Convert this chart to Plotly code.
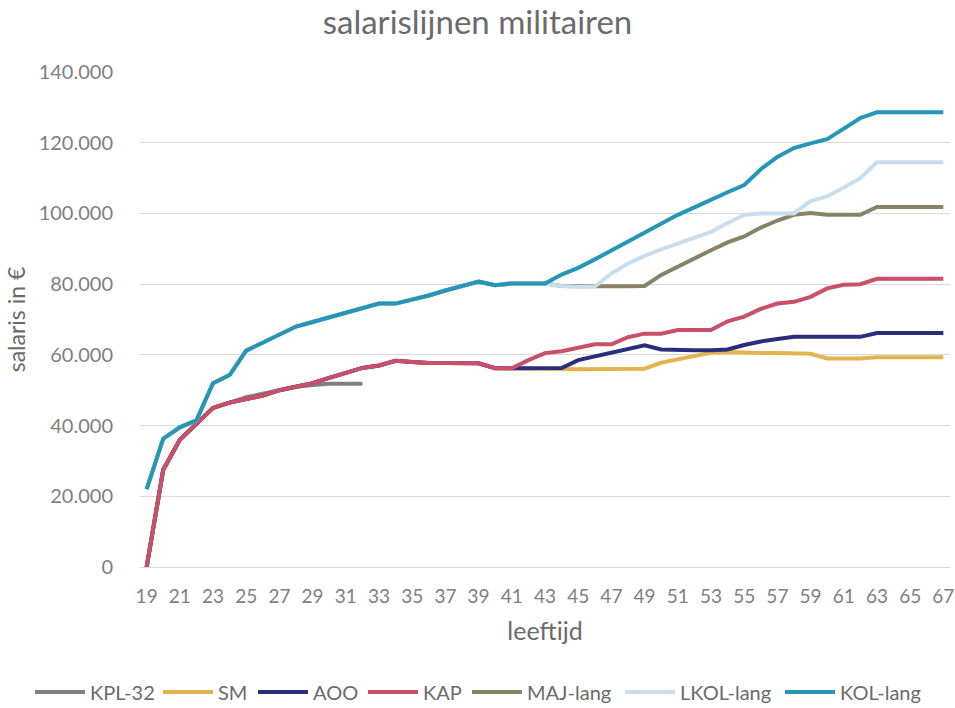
import plotly.graph_objects as go

# ---- data -------------------------------------------------------------
ages = list(range(19, 68))

# shared lower path (ages 19-41)
lower_19_41 = [0, 27500, 36000, 40500, 45000, 46500, 47500, 48500, 50000, 51000,
               52000, 53500, 55000, 56300, 57000, 58300, 58000, 57700, 57700, 57700,
               57600, 56200, 56200]
# shared upper path (ages 19-43)
upper_19_43 = [22000, 36300, 39500, 41500, 52000, 54300, 61200, 63500, 66000, 68000,
               69300, 70600, 71800, 73200, 74500, 74500, 75600, 76800, 78200, 79500,
               80700, 79700, 80200, 80200, 80200]

kpl32 = [0, 27500, 36000, 40500, 45000, 46500, 48000, 49000, 50000, 51000,
         51500, 51800, 51800, 51800]  # ages 19-32

sm_42_67 = [56200, 56200, 56000, 55900, 55900, 55900, 55900, 56100, 57800, 58800,
            59700, 60600, 60800, 60600, 60500, 60500, 60500, 60300, 59000, 59000,
            59000, 59300, 59300, 59300, 59300, 59300]
aoo_42_67 = [56200, 56200, 56300, 58500, 59500, 60500, 61700, 62700, 61500, 61300,
             61300, 61300, 61500, 62800, 63800, 64500, 65100, 65100, 65100, 65100,
             65100, 66200, 66200, 66200, 66200, 66200]
kap_42_67 = [58500, 60500, 61000, 62000, 63000, 63000, 65000, 66000, 66000, 67000,
             67000, 67000, 69500, 70800, 73000, 74500, 75000, 76400, 78800, 79800,
             80000, 81500, 81500, 81500, 81500, 81500]
maj_44_67 = [79500, 79400, 79400, 79400, 79400, 79500, 82600, 85000, 87400, 89600,
             91800, 93500, 96000, 98000, 99600, 100100, 99600, 99600, 99600, 101800,
             101800, 101800, 101800, 101800]
lkol_44_67 = [79500, 79200, 79300, 83000, 85800, 88000, 89800, 91500, 93000, 94800,
              97300, 99600, 100000, 100000, 100000, 103500, 104800, 107300, 110000, 114500,
              114500, 114500, 114500, 114500]
kol_44_67 = [82700, 84600, 87000, 89500, 92000, 94500, 97300, 99600, 101700, 104000,
             106000, 108000, 112500, 116000, 118500, 119800, 121000, 124000, 127000, 128600,
             128600, 128600, 128600, 128600]

series_names = ["KPL-32", "SM", "AOO", "KAP", "MAJ-lang", "LKOL-lang", "KOL-lang"]
series_values = [
    kpl32,
    lower_19_41 + sm_42_67,
    lower_19_41 + aoo_42_67,
    lower_19_41 + kap_42_67,
    upper_19_43 + maj_44_67,
    upper_19_43 + lkol_44_67,
    upper_19_43 + kol_44_67,
]
colors = ["#808080", "#E3B350", "#2B2D7C", "#C9506B", "#8A8265", "#C7DDF0", "#2596B5"]

y_ticks = [0, 20000, 40000, 60000, 80000, 100000, 120000, 140000]
x_ticks = ages[::2]

# left edge (px) of each legend entry's line sample in the reference
legend_starts = [35, 163, 258, 368, 472, 625, 785]

# ---- figure -----------------------------------------------------------
fig = go.Figure()
legend_ids = ["legend"] + [f"legend{i}" for i in range(2, len(series_names) + 1)]
for name, vals, col, lid in zip(series_names, series_values, colors, legend_ids):
    fig.add_trace(go.Scatter(
        x=ages[:len(vals)], y=vals, name=name, mode="lines",
        line=dict(color=col, width=4), legend=lid,
    ))

font_family = "Lato, 'Open Sans', sans-serif"
layout_legends = {}
for lid, start in zip(legend_ids, legend_starts):
    layout_legends[lid] = dict(
        orientation="h", xref="container", yref="container",
        x=(start - 5) / 955, xanchor="left",
        y=1 - 692 / 708, yanchor="middle",
        font=dict(size=20, color="#6b6b6b"), itemwidth=50,
        bgcolor="rgba(0,0,0,0)", borderwidth=0,
    )

fig.update_layout(
    width=955, height=708,
    separators=",.",
    paper_bgcolor="white", plot_bgcolor="white",
    margin=dict(l=140, r=5, t=72, b=141, autoexpand=False),
    font=dict(family=font_family, color="#7f7f7f", size=19),
    title=dict(text="salarislijnen militairen", x=0.5, xanchor="center",
               xref="container", yref="container", y=1 - 22 / 708, yanchor="middle",
               font=dict(size=33, color="#6b6b6b", family=font_family)),
    showlegend=True,
    **layout_legends,
)
fig.update_xaxes(
    range=[18.6, 67.4], tickmode="array", tickvals=x_ticks,
    ticktext=[str(v) for v in x_ticks],
    showgrid=False, zeroline=False, showline=False, ticks="",
    ticklabelstandoff=16,
    tickfont=dict(size=19, color="#7f7f7f"),
    title=dict(text="leeftijd", font=dict(size=25, color="#6b6b6b"), standoff=16),
)
fig.update_yaxes(
    range=[0, 140000], tickmode="array", tickvals=y_ticks, tickformat=",d",
    showgrid=True, gridcolor="#D9D9D9", gridwidth=1,
    zeroline=True, zerolinecolor="#D9D9D9", zerolinewidth=1,
    showline=False, ticks="", ticklabelstandoff=26,
    tickfont=dict(size=20, color="#7f7f7f"),
    title=dict(text="salaris in €", font=dict(size=23, color="#6b6b6b"), standoff=6),
)

fig.write_html("out.html", config={"displayModeBar": False},
               post_script="document.body.style.margin='0';")
